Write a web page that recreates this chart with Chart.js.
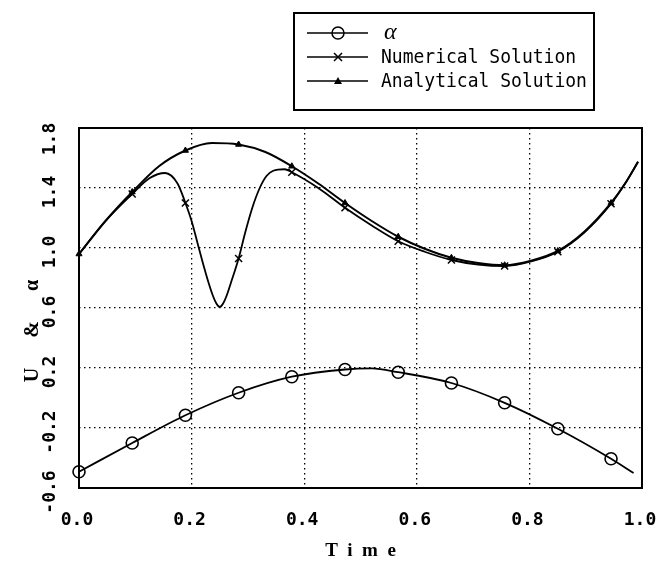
<!doctype html>
<html lang="en">
  <head>
    <meta charset="utf-8">
    <title>U and alpha vs Time</title>
    <style>
      * { margin: 0; padding: 0; }
      body { background: #fff; }
      .chartBox { width: 656px; height: 561px; position: relative; }
    </style>
  </head>
  <body>
    <div class="chartBox">
      <canvas id="myChart"></canvas>
    </div>
    <script src="https://cdn.jsdelivr.net/npm/chart.js"></script>
    <script>

    // setup
    const markerTimes = [0, 0.0945, 0.189, 0.2835, 0.378, 0.4725, 0.567, 0.6615, 0.756, 0.8505, 0.945];

    const alphaT = [0, 0.0945, 0.189, 0.2835, 0.378, 0.4725, 0.52, 0.567, 0.6615, 0.756, 0.8505, 0.945, 0.985];
    const alphaV = [-0.492, -0.30, -0.115, 0.035, 0.142, 0.19, 0.197, 0.172, 0.10, -0.032, -0.205, -0.405, -0.50];

    const numT = [0, 0.047, 0.0945, 0.125, 0.153, 0.175, 0.189, 0.20, 0.21, 0.22, 0.23, 0.238, 0.244, 0.25,
                  0.256, 0.262, 0.27, 0.2835, 0.295, 0.308, 0.321, 0.333, 0.345, 0.365, 0.378, 0.425, 0.4725,
                  0.52, 0.567, 0.614, 0.6615, 0.709, 0.756, 0.803, 0.8505, 0.898, 0.945, 0.97, 0.993];
    const numV = [0.96, 1.18, 1.36, 1.465, 1.50, 1.43, 1.30, 1.18, 1.04, 0.90, 0.77, 0.68, 0.63, 0.607,
                  0.63, 0.68, 0.77, 0.93, 1.10, 1.27, 1.40, 1.48, 1.515, 1.525, 1.505, 1.40, 1.268,
                  1.15, 1.045, 0.975, 0.92, 0.89, 0.88, 0.91, 0.975, 1.105, 1.295, 1.43, 1.575];

    const anaT = [0, 0.047, 0.0945, 0.142, 0.189, 0.236, 0.2835, 0.331, 0.378, 0.425, 0.4725, 0.52, 0.567,
                  0.614, 0.6615, 0.709, 0.756, 0.803, 0.8505, 0.898, 0.945, 0.97, 0.993];
    const anaV = [0.96, 1.18, 1.373, 1.545, 1.65, 1.70, 1.69, 1.64, 1.545, 1.43, 1.30, 1.18, 1.075,
                  0.995, 0.935, 0.90, 0.885, 0.915, 0.98, 1.11, 1.30, 1.43, 1.575];

    const xTicks = { min: 0, max: 1, step: 0.2 };
    const yTicks = { min: -0.6, max: 1.8, step: 0.4 };

    const pts = (ts, vs) => ts.map((t, i) => ({ x: t, y: vs[i] }));
    const isMarker = t => markerTimes.includes(t);

    const data = {
      datasets: [{
        label: 'α',
        data: pts(alphaT, alphaV),
        borderColor: '#000',
        borderWidth: 1.8,
        pointStyle: 'circle',
        pointRadius: c => isMarker(c.raw.x) ? 6 : 0,
        pointBorderWidth: 1.6,
        pointBorderColor: '#000',
        pointBackgroundColor: 'rgba(0,0,0,0)',
        cubicInterpolationMode: 'monotone',
        clip: 10
      }, {
        label: 'Numerical Solution',
        data: pts(numT, numV),
        borderColor: '#000',
        borderWidth: 1.8,
        pointStyle: 'crossRot',
        pointRadius: c => (isMarker(c.raw.x) && c.raw.x > 0) ? 5 : 0,
        pointBorderWidth: 1.5,
        pointBorderColor: '#000',
        cubicInterpolationMode: 'monotone',
        clip: 10
      }, {
        label: 'Analytical Solution',
        data: pts(anaT, anaV),
        borderColor: '#000',
        borderWidth: 2,
        pointStyle: 'triangle',
        pointRadius: c => isMarker(c.raw.x) ? 3.5 : 0,
        pointBorderWidth: 1,
        pointBorderColor: '#000',
        pointBackgroundColor: '#000',
        cubicInterpolationMode: 'monotone',
        clip: 10
      }]
    };

    // frame, rotated y labels, y title and the boxed legend
    const paperPlugin = {
      id: 'paper',
      beforeDatasetsDraw(chart) {
        const { ctx, chartArea: a } = chart;
        ctx.save();
        ctx.strokeStyle = '#000';
        ctx.lineWidth = 2;
        ctx.strokeRect(a.left, a.top, a.right - a.left, a.bottom - a.top);
        ctx.restore();
      },
      afterDraw(chart) {
        const { ctx, chartArea: a } = chart;
        const ys = chart.scales.y;
        ctx.save();
        ctx.fillStyle = '#000';
        ctx.strokeStyle = '#000';
        ctx.textAlign = 'center';
        ctx.textBaseline = 'middle';

        // y tick labels, reading bottom to top
        ctx.font = 'bold 18px "DejaVu Sans Mono"';
        ys.ticks.forEach(t => {
          const py = Math.max(ys.getPixelForValue(t.value) + 4, a.top + 11);
          ctx.save();
          ctx.translate(50, py);
          ctx.rotate(-Math.PI / 2);
          ctx.fillText(t.value.toFixed(1), 0, 0);
          ctx.restore();
        });

        // y title
        ctx.font = 'bold 20px "Liberation Serif"';
        ctx.save();
        ctx.translate(33, 331);
        ctx.rotate(-Math.PI / 2);
        ctx.fillText('U      &      α', 0, 0);
        ctx.restore();

        // legend box
        ctx.lineWidth = 2;
        ctx.strokeRect(294, 13, 300, 97);
        chart.data.datasets.forEach((ds, i) => {
          const y = 33 + i * 24;
          ctx.lineWidth = 1.6;
          ctx.beginPath();
          ctx.moveTo(307, y);
          ctx.lineTo(368, y);
          ctx.stroke();
          const mx = 338;
          ctx.lineWidth = 1.5;
          ctx.beginPath();
          if (ds.pointStyle === 'circle') {
            ctx.arc(mx, y, 6, 0, Math.PI * 2);
            ctx.stroke();
          } else if (ds.pointStyle === 'crossRot') {
            ctx.moveTo(mx - 4, y - 4); ctx.lineTo(mx + 4, y + 4);
            ctx.moveTo(mx - 4, y + 4); ctx.lineTo(mx + 4, y - 4);
            ctx.stroke();
          } else {
            ctx.moveTo(mx, y - 4); ctx.lineTo(mx + 4, y + 3); ctx.lineTo(mx - 4, y + 3);
            ctx.closePath();
            ctx.fill();
          }
          ctx.textAlign = 'left';
          if (ds.label === 'α') {
            ctx.font = 'italic 24px "Liberation Serif"';
            ctx.fillText(ds.label, 384, y);
          } else {
            ctx.font = '20px "DejaVu Sans Mono"';
            ctx.save();
            ctx.translate(381, y + 1);
            ctx.scale(0.9, 1);
            ctx.fillText(ds.label, 0, 0);
            ctx.restore();
          }
        });
        ctx.restore();
      }
    };

    const interior = (c, lim) => (Math.abs(c.tick.value - lim.min) < 1e-6 || Math.abs(c.tick.value - lim.max) < 1e-6) ? 'rgba(0,0,0,0)' : '#000';

    // config
    const config = {
      type: 'line',
      data,
      options: {
        responsive: true,
        maintainAspectRatio: false,
        animation: false,
        layout: { padding: { top: 128, right: 14, left: 0, bottom: 0 } },
        plugins: { legend: { display: false }, tooltip: { enabled: false } },
        scales: {
          x: {
            type: 'linear',
            min: xTicks.min,
            max: xTicks.max,
            afterFit(s) { s.height = 73; s.paddingLeft = 0; s.paddingRight = 0; },
            ticks: {
              stepSize: xTicks.step,
              color: '#000',
              padding: 22,
              maxRotation: 0,
              labelOffset: -2,
              font: { family: 'DejaVu Sans Mono', size: 18, weight: 'bold' },
              callback: v => v.toFixed(1)
            },
            grid: { drawTicks: false, lineWidth: 1.3, color: c => interior(c, xTicks) },
            border: { display: false, dash: [1.5, 3.5] },
            title: {
              display: true,
              text: 'T  i  m  e',
              color: '#000',
              padding: 0,
              font: { family: 'Liberation Serif', size: 19, weight: 'bold', lineHeight: 1 }
            }
          },
          y: {
            min: yTicks.min,
            max: yTicks.max,
            afterFit(s) { s.width = 79; s.paddingTop = 0; s.paddingBottom = 0; },
            ticks: { stepSize: yTicks.step, display: false },
            grid: { drawTicks: false, lineWidth: 1.3, color: c => interior(c, yTicks) },
            border: { display: false, dash: [1.5, 3.5] }
          }
        }
      },
      plugins: [paperPlugin]
    };

    // render init block
    const myChart = new Chart(
      document.getElementById('myChart'),
      config
    );
    </script>
  </body>
</html>
